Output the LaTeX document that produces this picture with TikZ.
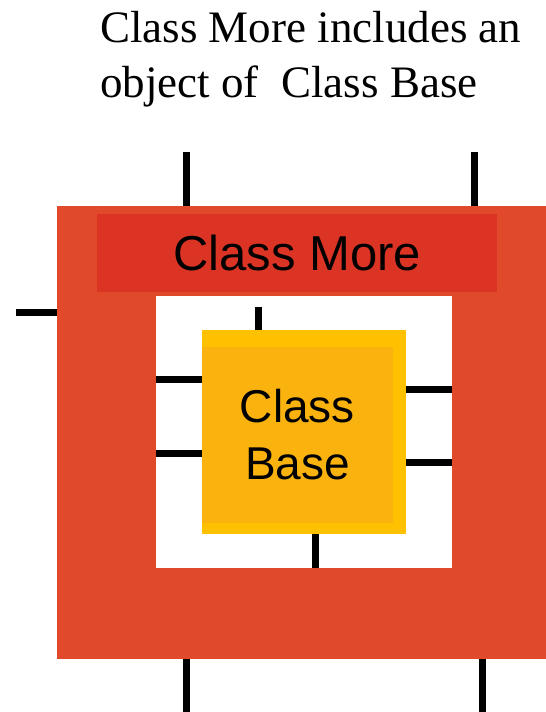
\documentclass[tikz,border=0pt]{standalone}
\usepackage{fontspec}
\setmainfont{Liberation Serif}
\newfontfamily\labelfont{Liberation Sans}
\definecolor{moreorange}{HTML}{E04A2A}
\definecolor{morebar}{HTML}{DB3424}
\definecolor{baseyellow}{HTML}{FFC000}
\definecolor{baseinner}{HTML}{FAB20E}
\begin{document}
\begin{tikzpicture}[x=1pt,y=-1pt,
  box/.style={draw=none, inner sep=0pt, outer sep=0pt, anchor=north west},
  stub/.style={line width=7pt, black},
  title/.style={inner sep=0pt, anchor=base west, font=\fontsize{45}{54}\selectfont}]
\useasboundingbox (0,0) rectangle (546,712);

% heading
\node[title] (t1) at (100,42) {Class More includes an};
\node[title] (t2) at (100,97) {object of\ \ Class Base};

% Class More: outer body, name bar and the window holding the member
\node[box, fill=moreorange, minimum width=489, minimum height=453] (more) at (57,206) {};
\node[box, fill=morebar, minimum width=400, minimum height=78] (bar) at (97,214)
  {};
\node[font=\labelfont\fontsize{49}{58}\selectfont] (barlabel) at (bar.center) {Class More};
\node[box, fill=white, minimum width=296, minimum height=272] (win) at (156,296) {};

% Class Base object
\node[box, fill=baseyellow, minimum width=204, minimum height=204] (base) at (202,330) {};
\node[box, fill=baseinner, minimum width=191, minimum height=176] (basein) at (202,347) {};
\node[font=\labelfont\fontsize{46}{57}\selectfont, align=center] (baselabel)
  at (basein.center) {Class\\Base};

% interface stubs of Class More
\coordinate (mt1) at (186,152);
\coordinate (mt2) at (474,152);
\coordinate (ml) at (16,312);
\coordinate (mb1) at (186,712);
\coordinate (mb2) at (482,712);
\draw[stub] (mt1) -- (mt1 |- more.north);
\draw[stub] (mt2) -- (mt2 |- more.north);
\draw[stub] (ml) -- (ml -| more.west);
\draw[stub] (mb1) -- (mb1 |- more.south);
\draw[stub] (mb2) -- (mb2 |- more.south);

% interface stubs of Class Base
\coordinate (bt) at (258,307);
\coordinate (bb) at (315,568);
\coordinate (bl1) at (156,379);
\coordinate (bl2) at (156,453);
\coordinate (br1) at (452,389);
\coordinate (br2) at (452,462);
\draw[stub] (bt) -- (bt |- base.north);
\draw[stub] (bb) -- (bb |- base.south);
\draw[stub] (bl1) -- (bl1 -| base.west);
\draw[stub] (bl2) -- (bl2 -| base.west);
\draw[stub] (br1) -- (br1 -| base.east);
\draw[stub] (br2) -- (br2 -| base.east);
\end{tikzpicture}
\end{document}
